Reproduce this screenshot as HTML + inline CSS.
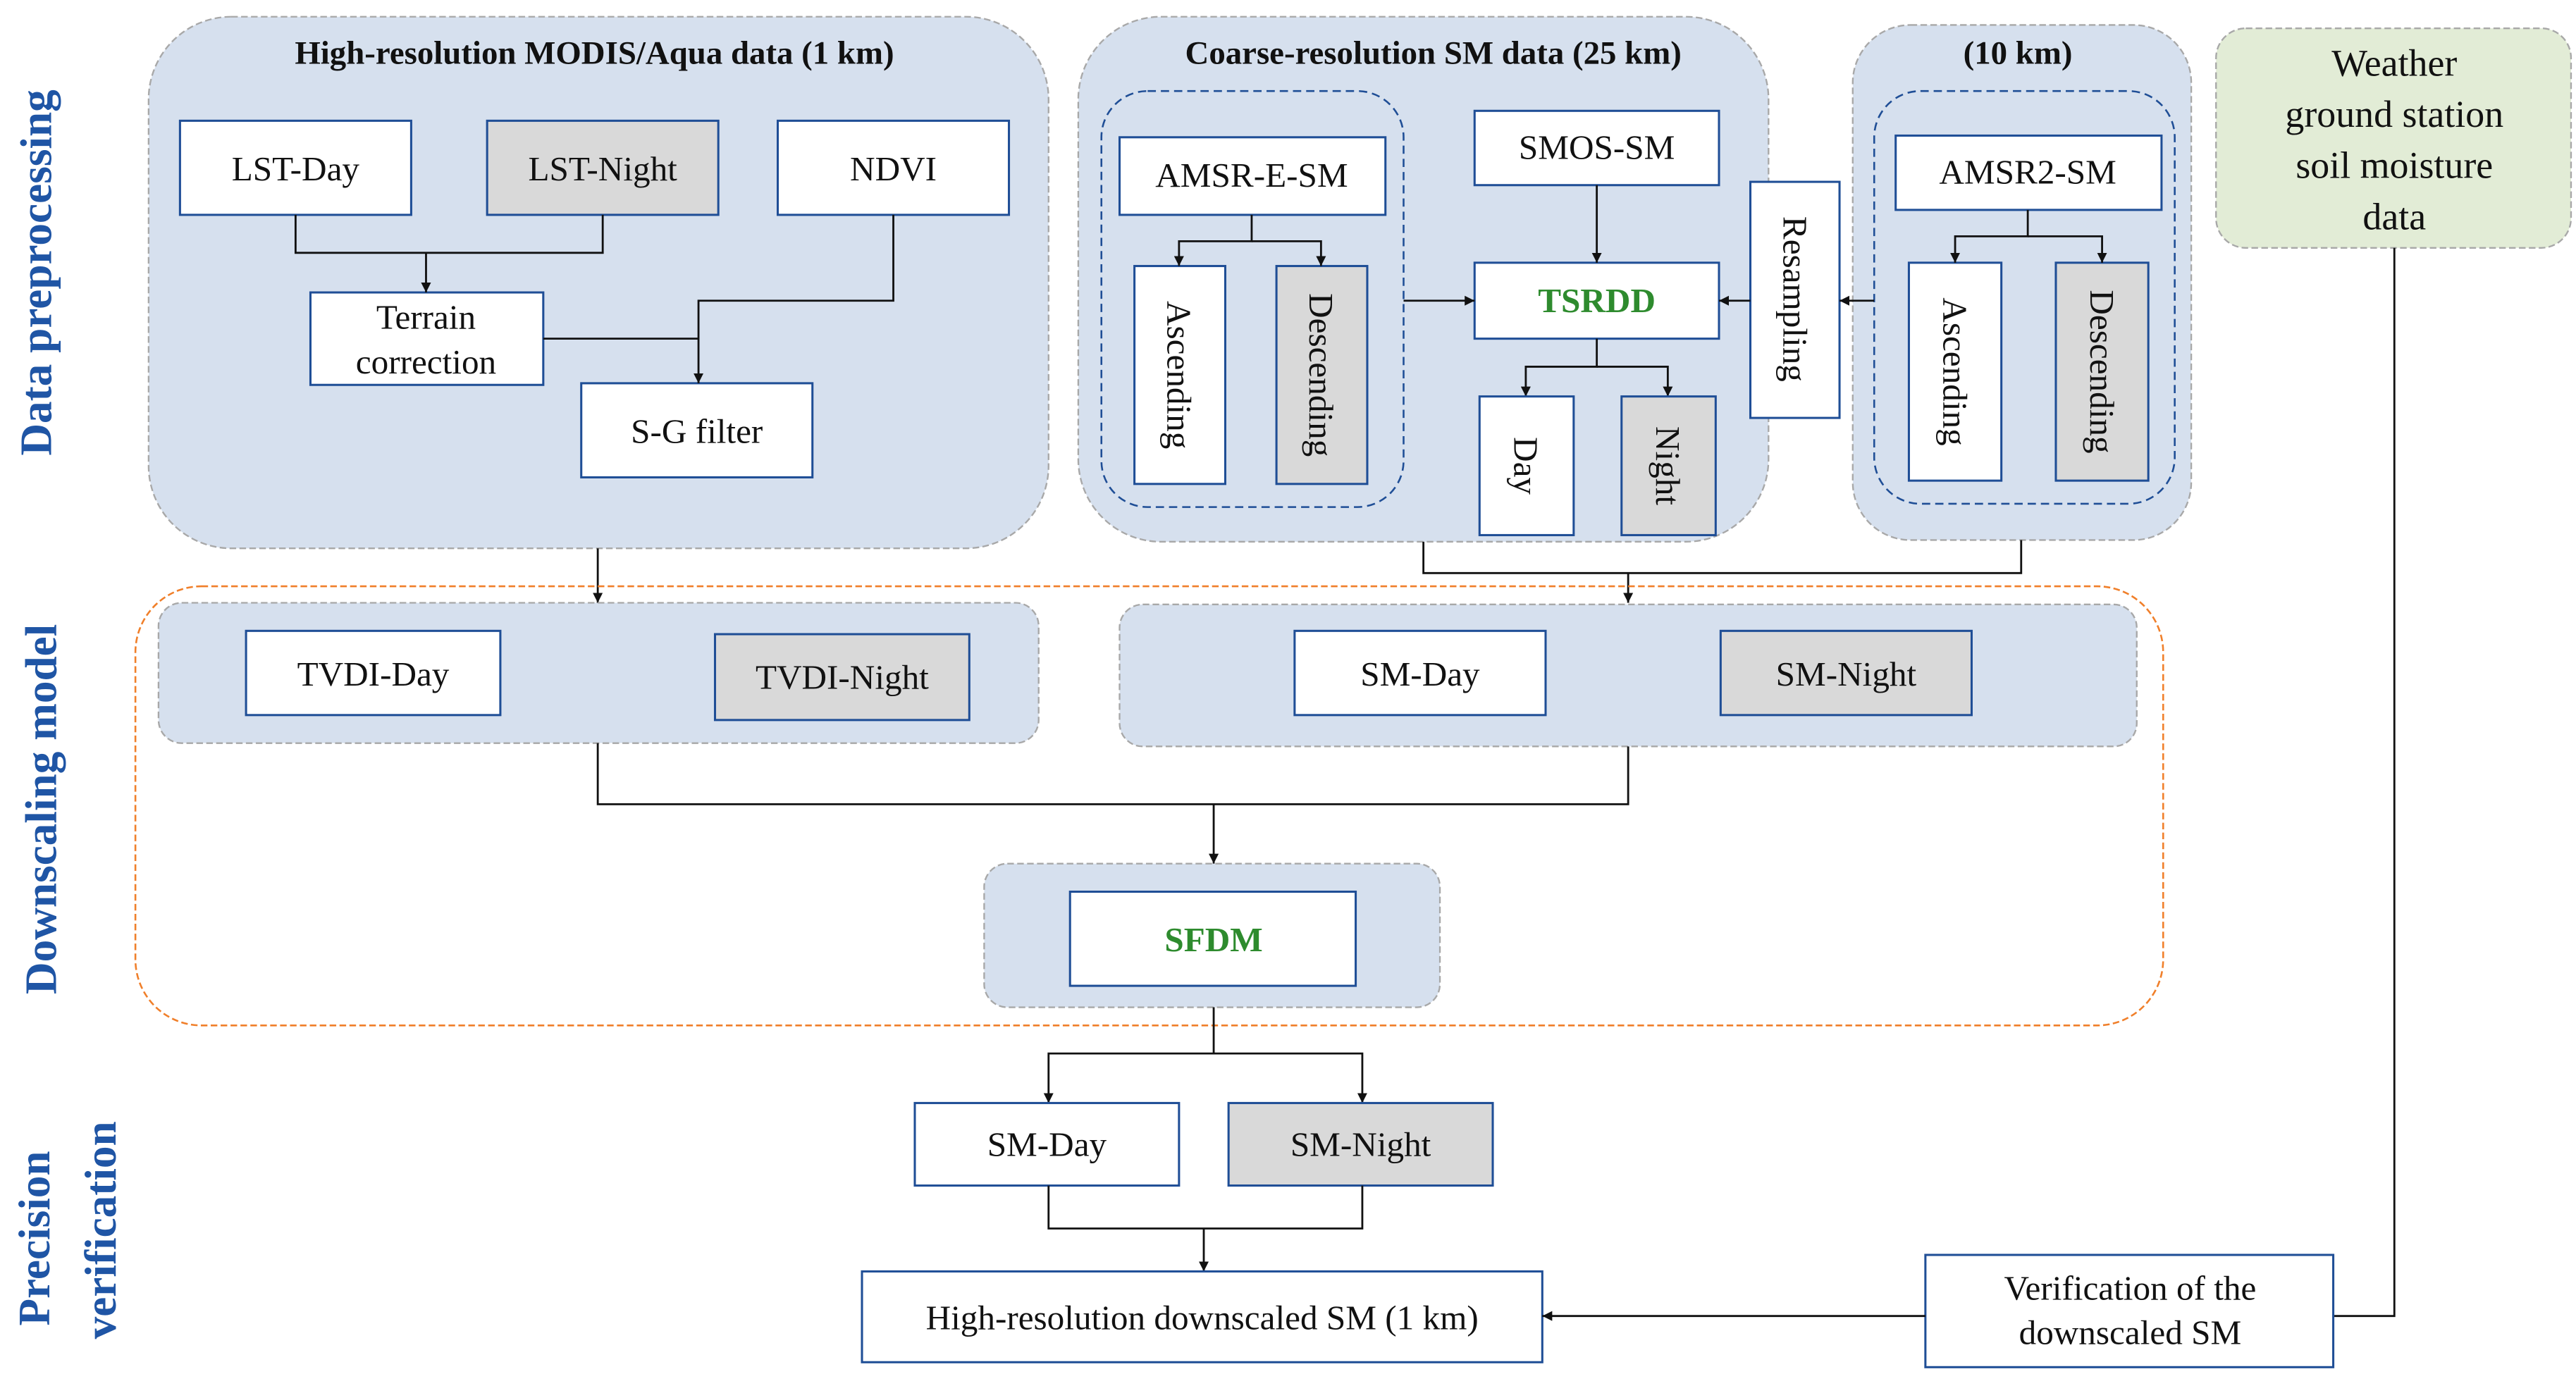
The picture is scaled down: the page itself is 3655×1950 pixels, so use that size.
<!DOCTYPE html>
<html><head><meta charset="utf-8"><style>
html,body{margin:0;padding:0;background:#fff;}
svg{display:block;}
</style></head><body>
<svg width="3655" height="1950" viewBox="0 0 1560 832" xmlns="http://www.w3.org/2000/svg" font-family="'Liberation Serif', serif">
<defs>
<marker id="a" viewBox="0 0 10 10" refX="10" refY="5" markerWidth="5" markerHeight="5" orient="auto"><path d="M0,0L10,5L0,10z" fill="#111"/></marker>
</defs>
<style>
text{font-family:"Liberation Serif","DejaVu Serif",serif;}
.p{fill:#d6e0ee;stroke:#a8a8a8;stroke-width:1;stroke-dasharray:4 2;}
.b{fill:#fff;stroke:#1f4e96;stroke-width:1.3;}
.g{fill:#d9d9d9;stroke:#1f4e96;stroke-width:1.3;}
.d{fill:none;stroke:#1f4e96;stroke-width:1.1;stroke-dasharray:5 3;}
.l{fill:none;stroke:#111;stroke-width:1.2;}
.t{font-family:"Liberation Serif",serif;font-size:21px;fill:#111;text-anchor:middle;dominant-baseline:central;}
.h{font-family:"Liberation Serif",serif;font-size:20px;font-weight:bold;fill:#111;text-anchor:middle;dominant-baseline:central;}
.s{font-family:"Liberation Serif",serif;font-size:27px;font-weight:bold;fill:#1f55a5;text-anchor:middle;dominant-baseline:central;}
.gr{font-family:"Liberation Serif",serif;font-size:21px;font-weight:bold;fill:#2e8b2e;text-anchor:middle;dominant-baseline:central;}
</style>

<text class="s" transform="translate(22,165) rotate(-90)">Data preprocessing</text>
<text class="s" transform="translate(25,490) rotate(-90)">Downscaling model</text>
<text class="s" transform="translate(21,750) rotate(-90)">Precision</text>
<text class="s" transform="translate(61,745) rotate(-90)">verification</text>

<rect class="p" x="90" y="10" width="545" height="322" rx="50"/>
<text class="h" x="360" y="32">High-resolution MODIS/Aqua data (1 km)</text>
<rect class="b" x="109" y="73" width="140" height="57"/><text class="t" x="179" y="102">LST-Day</text>
<rect class="g" x="295" y="73" width="140" height="57"/><text class="t" x="365" y="102">LST-Night</text>
<rect class="b" x="471" y="73" width="140" height="57"/><text class="t" x="541" y="102">NDVI</text>
<rect class="b" x="188" y="177" width="141" height="56"/><text class="t" x="258" y="192">Terrain</text><text class="t" x="258" y="219">correction</text>
<rect class="b" x="352" y="232" width="140" height="57"/><text class="t" x="422" y="261">S-G filter</text>
<path class="l" d="M179,130V153H365V130"/><path class="l" d="M258,153V177" marker-end="url(#a)"/>
<path class="l" d="M541,130V182H423V232" marker-end="url(#a)"/><path class="l" d="M329,205H423"/>

<rect class="p" x="653" y="10" width="418" height="318" rx="50"/>
<text class="h" x="868" y="32">Coarse-resolution SM data (25 km)</text>
<rect class="d" x="667" y="55" width="183" height="252" rx="28"/>
<rect class="b" x="678" y="83" width="161" height="47"/><text class="t" x="758" y="106">AMSR-E-SM</text>
<rect class="b" x="687" y="161" width="55" height="132"/><text class="t" transform="translate(714,227) rotate(90)">Ascending</text>
<rect class="g" x="773" y="161" width="55" height="132"/><text class="t" transform="translate(800,227) rotate(90)">Descending</text>
<path class="l" d="M758,130V146H714V161" marker-end="url(#a)"/><path class="l" d="M758,146H800V161" marker-end="url(#a)"/>
<rect class="b" x="893" y="67" width="148" height="45"/><text class="t" x="967" y="89">SMOS-SM</text>
<rect class="b" x="893" y="159" width="148" height="46"/><text class="gr" x="967" y="182">TSRDD</text>
<path class="l" d="M967,112V159" marker-end="url(#a)"/>
<path class="l" d="M850,182H893" marker-end="url(#a)"/>
<path class="l" d="M967,205V222H924V240" marker-end="url(#a)"/><path class="l" d="M967,222H1010V240" marker-end="url(#a)"/>
<rect class="b" x="896" y="240" width="57" height="84"/><text class="t" transform="translate(924,282) rotate(90)">Day</text>
<rect class="g" x="982" y="240" width="57" height="84"/><text class="t" transform="translate(1010,282) rotate(90)">Night</text>

<rect class="b" x="1060" y="110" width="54" height="143"/><text class="t" transform="translate(1087,181) rotate(90)">Resampling</text>
<path class="l" d="M1060,182H1041" marker-end="url(#a)"/>

<rect class="p" x="1122" y="15" width="205" height="312" rx="35"/>
<text class="h" x="1222" y="32">(10 km)</text>
<rect class="d" x="1135" y="55" width="182" height="250" rx="28"/>
<rect class="b" x="1148" y="82" width="161" height="45"/><text class="t" x="1228" y="104">AMSR2-SM</text>
<rect class="b" x="1156" y="159" width="56" height="132"/><text class="t" transform="translate(1184,225) rotate(90)">Ascending</text>
<rect class="g" x="1245" y="159" width="56" height="132"/><text class="t" transform="translate(1273,225) rotate(90)">Descending</text>
<path class="l" d="M1228,127V143H1184V159" marker-end="url(#a)"/><path class="l" d="M1228,143H1273V159" marker-end="url(#a)"/>
<path class="l" d="M1135,182H1114" marker-end="url(#a)"/>

<rect x="1342" y="17" width="215" height="133" rx="18" fill="#e2ecd6" stroke="#a8a8a8" stroke-dasharray="4 2"/>
<text class="t" x="1450" y="38" style="font-size:23px">Weather</text>
<text class="t" x="1450" y="69" style="font-size:23px">ground station</text>
<text class="t" x="1450" y="100" style="font-size:23px">soil moisture</text>
<text class="t" x="1450" y="131" style="font-size:23px">data</text>
<path class="l" d="M1450,150V797H1413"/>

<path class="l" d="M362,332V365" marker-end="url(#a)"/>
<path class="l" d="M862,328V347H1224V327"/>
<path class="l" d="M986,347V365" marker-end="url(#a)"/>

<rect x="82" y="355" width="1228" height="266" rx="40" fill="none" stroke="#f07f2a" stroke-width="1.1" stroke-dasharray="4 2"/>
<rect class="p" x="96" y="365" width="533" height="85" rx="14"/>
<rect class="b" x="149" y="382" width="154" height="51"/><text class="t" x="226" y="408">TVDI-Day</text>
<rect class="g" x="433" y="384" width="154" height="52"/><text class="t" x="510" y="410">TVDI-Night</text>
<rect class="p" x="678" y="366" width="616" height="86" rx="14"/>
<rect class="b" x="784" y="382" width="152" height="51"/><text class="t" x="860" y="408">SM-Day</text>
<rect class="g" x="1042" y="382" width="152" height="51"/><text class="t" x="1118" y="408">SM-Night</text>
<path class="l" d="M362,450V487H986V452"/>
<path class="l" d="M735,487V523" marker-end="url(#a)"/>
<rect class="p" x="596" y="523" width="276" height="87" rx="14"/>
<rect class="b" x="648" y="540" width="173" height="57"/><text class="gr" x="735" y="569">SFDM</text>

<path class="l" d="M735,610V638H635V668" marker-end="url(#a)"/><path class="l" d="M735,638H825V668" marker-end="url(#a)"/>
<rect class="b" x="554" y="668" width="160" height="50"/><text class="t" x="634" y="693">SM-Day</text>
<rect class="g" x="744" y="668" width="160" height="50"/><text class="t" x="824" y="693">SM-Night</text>
<path class="l" d="M635,718V744H825V718"/><path class="l" d="M729,744V770" marker-end="url(#a)"/>
<rect class="b" x="522" y="770" width="412" height="55"/><text class="t" x="728" y="798">High-resolution downscaled SM (1 km)</text>
<rect class="b" x="1166" y="760" width="247" height="68"/><text class="t" x="1290" y="780">Verification of the</text><text class="t" x="1290" y="807">downscaled SM</text>
<path class="l" d="M1166,797H934" marker-end="url(#a)"/>
</svg>
</body></html>
